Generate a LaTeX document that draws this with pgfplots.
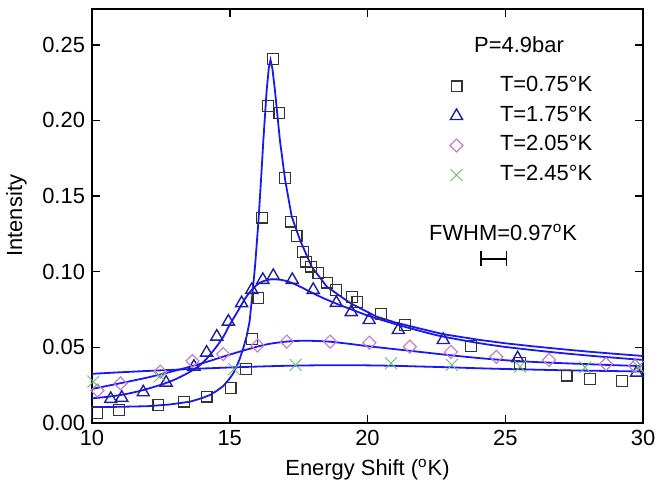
\documentclass[border=0pt]{standalone}
\usepackage{fontspec}
\setmainfont{Liberation Sans}
\usepackage{pgfplots}
\pgfplotsset{compat=1.18}
\usetikzlibrary{arrows.meta}
\definecolor{fitblue}{rgb}{0.1,0.1,0.95}
\definecolor{sqcol}{rgb}{0.2,0.2,0.2}
\definecolor{tricol}{rgb}{0.12,0.12,0.62}
\definecolor{diacol}{rgb}{0.78,0.5,0.78}
\definecolor{xcol}{rgb}{0.42,0.74,0.42}
\newcommand{\fs}{\fontsize{11}{13}\selectfont}
\begin{document}
\begin{tikzpicture}
\begin{axis}[name=ax, scale only axis, width=275.5bp, height=207.25bp,
  xmin=10, xmax=30, ymin=0, ymax=0.274,
  xtick={10,15,20,25,30}, ytick={0,0.05,0.1,0.15,0.2,0.25},
  tick align=inside, major tick length=4bp,
  axis line style={line width=1bp},
  every tick/.style={line width=0.75bp, black},
  tick label style={font=\fs},
  label style={font=\fs},
  /pgf/number format/assume math mode=true,
  yticklabel style={/pgf/number format/.cd, fixed, fixed zerofill, precision=2},
  xlabel={Energy Shift (\textsuperscript{o}K)},
  ylabel={Intensity},
  ylabel style={yshift=1bp},
  legend cell align=left,
  legend style={draw=none, fill=none, inner sep=0pt, font=\fs,
    at={(0.649,0.843)}, anchor=north west, column sep=17.5bp, row sep=2.25bp,
    nodes={inner sep=1bp, text height=8bp, text depth=2.5bp}},
]
% fits
\addplot[fitblue, line width=0.9bp, forget plot] coordinates {
(10,0.0105)(11,0.0107)(12,0.0111)(12.8,0.0122)(13.56,0.0141)(14.0,0.0165)(14.28,0.0185)
(14.55,0.0215)(14.77,0.0245)(15.0,0.0295)(15.13,0.0329)(15.25,0.0375)(15.37,0.0428)
(15.5,0.050)(15.61,0.0571)(15.72,0.067)(15.82,0.085)(15.92,0.104)(16.04,0.133)
(16.14,0.162)(16.22,0.187)(16.34,0.220)(16.42,0.235)(16.48,0.240)(16.55,0.234)
(16.64,0.220)(16.82,0.187)(17.01,0.1607)(17.25,0.1364)(17.55,0.121)(17.97,0.1034)
(18.52,0.0902)(19.0,0.084)(19.4,0.079)(20.33,0.0703)(21,0.0665)(22,0.0620)(22.75,0.0587)
(24.08,0.0549)(25,0.0527)(26,0.0507)(27,0.0489)(28,0.0472)(29,0.0457)(30,0.0443)};
\addplot[fitblue, line width=0.9bp, smooth, forget plot] coordinates {
(10,0.0163)(10.5,0.0172)(11.14,0.0188)(11.8,0.0215)(12.59,0.0258)(13.1,0.0295)(13.56,0.0339)
(13.9,0.038)(14.16,0.0425)(14.5,0.050)(14.77,0.0571)(15.0,0.065)(15.25,0.0726)(15.55,0.0820)
(15.8,0.0880)(16.1,0.0928)(16.5,0.0950)(16.9,0.0945)(17.27,0.0925)(17.6,0.0897)(18.0,0.0860)
(18.4,0.0825)(18.86,0.0790)(19.5,0.0745)(20.09,0.0705)(21.12,0.0648)(22,0.0604)(22.75,0.0571)
(24.08,0.0527)(25,0.0503)(26,0.0482)(27,0.0463)(28,0.0446)(29,0.0431)(30,0.0417)};
\addplot[fitblue, line width=0.9bp, smooth, forget plot] coordinates {
(10,0.0225)(11,0.0262)(12,0.0300)(13,0.0345)(14,0.0395)(15,0.0452)(16,0.0505)(16.5,0.0525)
(17,0.0537)(17.5,0.0543)(18,0.0543)(18.6,0.0538)(19.4,0.0522)(20,0.0508)(21,0.0488)(22,0.0468)
(23,0.0448)(24,0.0430)(25,0.0415)(26,0.0404)(27,0.0396)(28,0.0389)(29,0.0382)(30,0.0376)};
\addplot[fitblue, line width=0.9bp, smooth, forget plot] coordinates {
(10,0.0325)(11,0.0335)(12,0.0344)(13,0.0352)(14,0.0360)(15,0.0367)(16,0.0373)(17,0.0378)
(18,0.0381)(19,0.0382)(20,0.0381)(21,0.0378)(22,0.0373)(23,0.0368)(24,0.0362)(25,0.0357)
(26,0.0353)(27,0.0349)(28,0.0346)(29,0.0343)(30,0.0340)};
% data
\addplot[only marks, mark=square, mark size=2.7bp, draw=sqcol, mark options={line width=0.6bp}] coordinates {
(10.19,0.0068)(10.99,0.0086)(12.41,0.0119)(13.34,0.0141)(14.16,0.0174)(15.03,0.0233)
(15.59,0.0357)(15.80,0.0554)(16.04,0.0825)(16.18,0.1358)(16.38,0.2097)(16.58,0.2407)
(16.80,0.2048)(17.01,0.1618)(17.22,0.1331)(17.43,0.1237)(17.65,0.1129)(17.76,0.1067)
(17.95,0.1034)(18.22,0.0990)(18.52,0.0928)(18.86,0.0880)(19.43,0.0831)(19.63,0.0798)
(20.50,0.0720)(21.36,0.0648)(23.75,0.0509)(25.54,0.0395)(27.23,0.0313)(28.08,0.0289)(29.23,0.0278)};
\addlegendentry{T=0.75°K}
\addplot[only marks, mark=triangle, mark size=3.5bp, draw=tricol, mark options={line width=0.7bp}] coordinates {
(10.68,0.0159)(11.08,0.0167)(11.86,0.0203)(12.69,0.0267)(13.70,0.0372)(14.16,0.0465)
(14.53,0.0571)(14.95,0.0670)(15.43,0.0792)(15.80,0.0880)(16.20,0.0946)(16.58,0.0972)
(17.27,0.0946)(18.03,0.0880)(18.87,0.0794)(19.41,0.0733)(20.06,0.0681)(21.12,0.0615)
(22.75,0.0549)(25.45,0.0428)(29.77,0.0333)};
\addlegendentry{T=1.75°K}
\addplot[only marks, mark=square, mark size=2.3bp, draw=diacol, mark options={rotate=45, line width=0.6bp}] coordinates {
(10.20,0.0215)(11.04,0.0262)(12.48,0.0339)(13.65,0.0410)(14.76,0.0456)(16.01,0.0512)
(17.07,0.0538)(18.64,0.0538)(20.07,0.0531)(21.54,0.0505)(23.03,0.0470)(24.68,0.0437)
(26.59,0.0417)(28.66,0.0390)(29.71,0.0377)};
\addlegendentry{T=2.05°K}
\addplot[only marks, mark=x, mark size=4.2bp, draw=xcol, mark options={line width=0.45bp}] coordinates {
(10.05,0.0273)(12.47,0.0311)(15.16,0.0356)(17.39,0.0384)(20.85,0.0395)(23.06,0.0384)
(25.54,0.0372)(27.90,0.0368)(29.83,0.0372)};
\addlegendentry{T=2.45°K}
\node[font=\fs] at (axis cs:25.5,0.25) {P=4.9bar};
\node[font=\fs] at (axis cs:24.92,0.1257) {FWHM=0.97\textsuperscript{o}K};
\draw[line width=0.75bp, {Bar[width=7.5bp]}-{Bar[width=7.5bp]}] (axis cs:24.1,0.1085) -- (axis cs:25.07,0.1085);
\end{axis}
\pgfresetboundingbox
\path[use as bounding box] ([xshift=-46bp,yshift=-29.5bp]ax.south west) rectangle ([xshift=14.5bp,yshift=4.25bp]ax.north east);
\end{tikzpicture}
\end{document}
